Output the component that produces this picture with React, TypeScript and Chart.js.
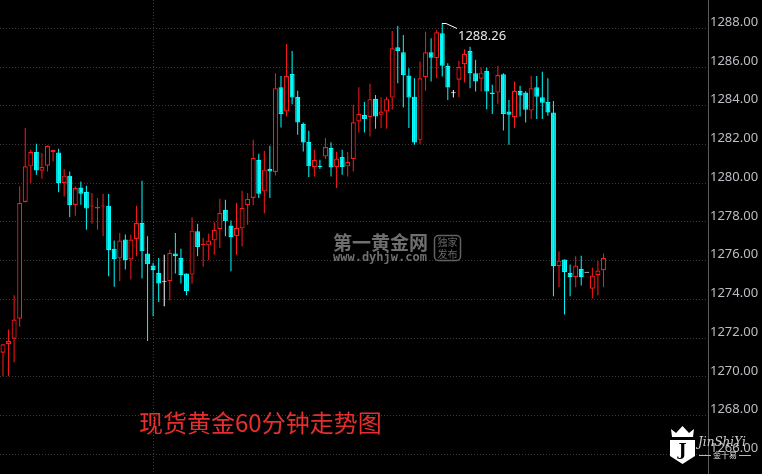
import React, { useEffect, useRef } from 'react';
import { Chart, registerables } from 'chart.js';

Chart.register(...registerables);

// 60-minute spot gold candles (oldest first)
const openPrices = [
  1272.19, 1271.25, 1271.70, 1271.97, 1273.00, 1279.03, 1280.87, 1281.61, 1280.64, 1280.90,
  1281.61, 1281.59, 1280.01, 1280.39, 1278.88, 1279.78, 1279.56, 1278.80, 1278.70, 1278.80,
  1278.84, 1276.62, 1276.12, 1277.09, 1276.06, 1277.12, 1277.95, 1276.37, 1275.75, 1275.37,
  1274.91, 1274.94, 1276.37, 1276.14, 1275.34, 1275.28, 1277.52, 1276.81, 1276.79, 1277.05,
  1277.64, 1278.63, 1277.81, 1277.26, 1277.67, 1278.86, 1279.24, 1281.21, 1279.58, 1280.75,
  1280.58, 1284.96, 1283.70, 1285.64, 1284.46, 1283.07, 1282.14, 1280.84, 1280.90, 1281.38,
  1281.83, 1280.84, 1281.35, 1280.87, 1281.25, 1283.19, 1283.52, 1283.41, 1284.36, 1283.53,
  1283.70, 1284.42, 1287.02, 1286.76, 1285.56, 1284.47, 1282.24, 1285.47, 1286.76, 1286.45,
  1287.74, 1286.06, 1284.65, 1285.34, 1286.14, 1286.83, 1285.68, 1285.40, 1285.80, 1284.68,
  1284.68, 1285.63, 1283.70, 1283.41, 1284.77, 1284.68, 1283.75, 1284.96, 1284.44, 1284.19,
  1283.65, 1275.71, 1276.06, 1275.37, 1275.14, 1275.58, 1275.37, 1274.55, 1275.25, 1275.51,
];
const highPrices = [
  1272.30, 1271.70, 1272.45, 1274.22, 1279.84, 1282.85, 1281.73, 1282.04, 1281.56, 1281.95,
  1281.73, 1281.78, 1280.73, 1280.61, 1279.84, 1280.09, 1279.87, 1279.49, 1279.24, 1279.46,
  1279.44, 1277.04, 1277.43, 1277.35, 1277.35, 1278.84, 1280.13, 1277.26, 1275.89, 1276.14,
  1276.31, 1276.57, 1277.43, 1276.62, 1275.34, 1278.24, 1277.91, 1277.18, 1277.40, 1277.98,
  1279.20, 1279.15, 1278.08, 1278.98, 1279.61, 1279.49, 1282.24, 1281.52, 1281.68, 1281.93,
  1285.68, 1285.54, 1287.19, 1286.83, 1284.77, 1283.13, 1282.71, 1281.73, 1281.21, 1282.33,
  1282.12, 1281.62, 1281.73, 1281.61, 1284.05, 1284.96, 1284.19, 1285.13, 1284.56, 1284.44,
  1284.47, 1287.86, 1288.12, 1287.65, 1285.94, 1285.42, 1286.28, 1287.82, 1287.48, 1287.91,
  1288.26, 1286.20, 1284.82, 1286.33, 1286.92, 1287.05, 1286.37, 1285.97, 1285.97, 1285.08,
  1286.06, 1285.68, 1284.30, 1285.25, 1285.03, 1284.75, 1285.54, 1285.54, 1285.76, 1285.42,
  1284.25, 1276.48, 1276.06, 1275.80, 1276.23, 1276.26, 1275.37, 1275.63, 1276.00, 1276.37,
];
const lowPrices = [
  1271.00, 1270.04, 1270.04, 1270.76, 1272.59, 1279.00, 1280.01, 1280.44, 1280.23, 1280.61,
  1281.12, 1279.53, 1279.32, 1278.24, 1278.32, 1278.89, 1277.60, 1277.91, 1277.60, 1277.26,
  1275.20, 1274.65, 1274.94, 1275.54, 1275.03, 1276.23, 1275.08, 1271.85, 1273.13, 1273.86,
  1273.65, 1273.96, 1275.34, 1274.82, 1274.22, 1274.82, 1276.23, 1275.68, 1276.02, 1276.31,
  1276.66, 1277.26, 1275.45, 1276.31, 1276.74, 1277.86, 1278.86, 1279.24, 1278.43, 1279.24,
  1280.40, 1282.88, 1283.44, 1284.08, 1282.50, 1281.64, 1280.32, 1280.35, 1280.73, 1281.25,
  1280.35, 1279.75, 1280.44, 1280.35, 1280.61, 1282.62, 1282.62, 1282.41, 1282.81, 1282.85,
  1282.81, 1283.79, 1285.16, 1283.91, 1282.85, 1281.98, 1282.02, 1284.77, 1285.25, 1285.42,
  1285.51, 1284.30, 1284.42, 1284.44, 1285.20, 1284.91, 1284.73, 1284.73, 1283.82, 1283.58,
  1284.10, 1282.72, 1281.98, 1282.85, 1283.44, 1283.13, 1283.31, 1283.31, 1283.31, 1283.48,
  1274.16, 1274.63, 1273.22, 1274.16, 1274.63, 1274.72, 1275.37, 1274.05, 1274.20, 1274.63,
];
const closePrices = [
  1271.26, 1271.68, 1271.85, 1272.96, 1278.98, 1280.87, 1281.61, 1280.66, 1280.84, 1281.93,
  1281.73, 1280.01, 1280.39, 1278.86, 1279.75, 1279.46, 1278.69, 1278.84, 1278.79, 1278.84,
  1276.54, 1276.09, 1277.04, 1276.02, 1277.09, 1277.95, 1276.48, 1275.81, 1275.51, 1274.82,
  1274.91, 1276.40, 1276.23, 1275.25, 1274.42, 1277.55, 1276.71, 1276.85, 1277.04, 1277.60,
  1278.46, 1278.03, 1277.21, 1277.69, 1278.72, 1279.19, 1281.30, 1279.46, 1280.70, 1280.61,
  1284.91, 1283.58, 1285.54, 1284.42, 1283.13, 1282.10, 1280.87, 1281.21, 1280.84, 1281.87,
  1280.81, 1281.28, 1280.84, 1281.09, 1283.15, 1283.58, 1283.32, 1284.34, 1283.44, 1283.70,
  1284.34, 1286.97, 1286.83, 1285.59, 1284.42, 1282.10, 1285.42, 1286.76, 1286.48, 1287.79,
  1286.06, 1284.94, 1284.65, 1286.00, 1286.68, 1285.68, 1285.25, 1285.71, 1284.73, 1284.61,
  1285.59, 1283.58, 1283.53, 1284.77, 1284.53, 1283.79, 1284.91, 1284.47, 1284.16, 1283.65,
  1275.71, 1276.00, 1275.40, 1275.14, 1275.75, 1275.14, 1275.37, 1275.23, 1275.49, 1276.14,
];

const yTickValues = [1266, 1268, 1270, 1272, 1274, 1276, 1278, 1280, 1282, 1284, 1286, 1288];
const sessionBreakIndex = 28;
const titleText = '现货黄金60分钟走势图';
const watermarkMain = '第一黄金网';
const watermarkUrl = 'www.dyhjw.com';
const watermarkBadge = ['独家', '发布'];
const logoText = 'JinShiYi';
const logoSub = '金十易';

const UP = '#ff1a1a';
const DOWN = '#00ffff';
const FLAT = '#ffffff';

function candleColor(i: number): string {
  const o = openPrices[i];
  const c = closePrices[i];
  if (c > o) return UP;
  if (c < o) return DOWN;
  return FLAT;
}

const overlayPlugin = {
  id: 'overlay',
  beforeDatasetsDraw(chart: any) {
    const { ctx, chartArea, scales } = chart;
    const px = Math.round(scales.x.getPixelForValue(sessionBreakIndex)) + 0.5;
    ctx.save();
    ctx.strokeStyle = '#3a3a3a';
    ctx.lineWidth = 1;
    ctx.setLineDash([1, 2]);
    ctx.beginPath();
    ctx.moveTo(px, chartArea.top);
    ctx.lineTo(px, chartArea.bottom);
    ctx.stroke();
    ctx.restore();
  },
  afterDraw(chart: any) {
    const { ctx, scales } = chart;
    const x = scales.x;
    const y = scales.y;
    ctx.save();

    // highest-high marker
    let hi = 0;
    highPrices.forEach((v, i) => {
      if (v > highPrices[hi]) hi = i;
    });
    const hx = Math.round(x.getPixelForValue(hi));
    const hy = Math.round(y.getPixelForValue(highPrices[hi])) + 0.5;
    ctx.strokeStyle = '#ffffff';
    ctx.lineWidth = 1;
    ctx.beginPath();
    ctx.moveTo(hx, hy);
    ctx.lineTo(hx + 4, hy);
    ctx.lineTo(hx + 15, hy + 5);
    ctx.stroke();
    ctx.fillStyle = '#e8e8e8';
    ctx.font = '13px "Noto Sans"';
    ctx.textAlign = 'left';
    ctx.textBaseline = 'middle';
    ctx.fillText(highPrices[hi].toFixed(2), hx + 16, hy + 13);

    // watermark
    ctx.fillStyle = '#6f6f6f';
    ctx.font = 'bold 19px "Noto Sans CJK SC"';
    ctx.textBaseline = 'middle';
    ctx.fillText(watermarkMain, 333, 243);
    ctx.font = 'bold 12px "DejaVu Sans Mono"';
    ctx.fillText(watermarkUrl, 333, 258);
    ctx.strokeStyle = '#626262';
    ctx.lineWidth = 1.5;
    ctx.beginPath();
    ctx.roundRect(434.5, 235.5, 26, 25, 4);
    ctx.stroke();
    ctx.font = '10px "Noto Sans CJK SC"';
    ctx.textAlign = 'center';
    ctx.fillStyle = '#666666';
    ctx.fillText(watermarkBadge[0], 447.5, 242.5);
    ctx.fillText(watermarkBadge[1], 447.5, 254);

    // title
    ctx.textAlign = 'left';
    ctx.fillStyle = '#e62e2e';
    ctx.font = '24px "Noto Sans CJK SC"';
    ctx.fillText(titleText, 139, 423);

    // logo
    ctx.fillStyle = '#ffffff';
    ctx.beginPath();
    ctx.moveTo(672, 437);
    ctx.lineTo(671, 429);
    ctx.lineTo(676, 433);
    ctx.lineTo(682.5, 426);
    ctx.lineTo(689, 433);
    ctx.lineTo(694, 429);
    ctx.lineTo(693, 437);
    ctx.closePath();
    ctx.fill();
    ctx.beginPath();
    ctx.moveTo(670, 440);
    ctx.lineTo(695, 440);
    ctx.lineTo(695, 456);
    ctx.lineTo(682.5, 464);
    ctx.lineTo(670, 456);
    ctx.closePath();
    ctx.fill();
    ctx.fillStyle = '#000000';
    ctx.font = 'bold 17px "DejaVu Serif"';
    ctx.textAlign = 'center';
    ctx.fillText('J', 682.5, 451);
    ctx.fillStyle = '#cfcfcf';
    ctx.font = 'italic 12px "DejaVu Serif"';
    ctx.textAlign = 'left';
    ctx.fillText(logoText, 698, 443);
    ctx.fillStyle = '#e0e0e0';
    ctx.font = '8px "Noto Sans CJK SC"';
    ctx.textAlign = 'center';
    ctx.fillText(logoSub, 725, 455);
    ctx.strokeStyle = '#bbbbbb';
    ctx.lineWidth = 1;
    ctx.beginPath();
    ctx.moveTo(699, 455.5);
    ctx.lineTo(711, 455.5);
    ctx.moveTo(739, 455.5);
    ctx.lineTo(751, 455.5);
    ctx.stroke();

    ctx.restore();
  },
};

export default function App() {
  const canvasRef = useRef<HTMLCanvasElement | null>(null);

  useEffect(() => {
    if (!canvasRef.current) return;
    const idx = openPrices.map((_, i) => i);
    const colors = idx.map(candleColor);

    const bodyData = idx.map((i) => ({
      x: i,
      y: [Math.min(openPrices[i], closePrices[i]), Math.max(openPrices[i], closePrices[i])],
    }));
    const wickData = idx.map((i) => ({ x: i, y: [lowPrices[i], highPrices[i]] }));

    const chart = new Chart(canvasRef.current, {
      type: 'bar',
      data: {
        datasets: [
          {
            label: 'body',
            data: bodyData as any,
            backgroundColor: colors.map((c) => (c === UP ? '#000000' : c)),
            borderColor: colors,
            borderWidth: 1.2,
            borderSkipped: false,
            grouped: false,
            categoryPercentage: 1,
            barPercentage: 0.9,
            minBarLength: 1,
            inflateAmount: 0,
            order: 0,
          } as any,
          {
            label: 'wick',
            data: wickData as any,
            backgroundColor: colors,
            borderWidth: 0,
            barThickness: 1,
            grouped: false,
            inflateAmount: 0,
            order: 1,
          } as any,
        ],
      },
      options: {
        responsive: false,
        animation: false,
        events: [],
        layout: { padding: 0 },
        plugins: {
          legend: { display: false },
          tooltip: { enabled: false },
          title: { display: false },
        },
        scales: {
          x: {
            type: 'linear',
            min: 0.46,
            max: 127.8,
            display: false,
            offset: false,
          },
          y: {
            position: 'right',
            min: 1264.983,
            max: 1289.4615,
            afterBuildTicks: (scale: any) => {
              scale.ticks = yTickValues.map((v) => ({ value: v }));
            },
            afterFit: (scale: any) => {
              scale.width = 54;
              scale.paddingTop = 0;
              scale.paddingBottom = 0;
            },
            ticks: {
              color: '#bdbdc4',
              font: { family: '"Noto Sans"', size: 13 },
              padding: 2,
              labelOffset: -6,
              callback: (v: any) => Number(v).toFixed(2),
            },
            grid: {
              color: '#3a3a3a',
              lineWidth: 1,
              drawTicks: false,
            },
            border: {
              display: true,
              color: '#5a5a5a',
              width: 1,
              dash: [1, 2],
            },
          } as any,
        },
      },
      plugins: [overlayPlugin],
    });
    return () => chart.destroy();
  }, []);

  return (
    <div
      style={{
        position: 'fixed',
        left: 0,
        top: 0,
        width: 762,
        height: 474,
        background: '#000000',
        overflow: 'hidden',
      }}
    >
      <canvas ref={canvasRef} width={762} height={474} style={{ width: 762, height: 474, display: 'block' }} />
    </div>
  );
}
